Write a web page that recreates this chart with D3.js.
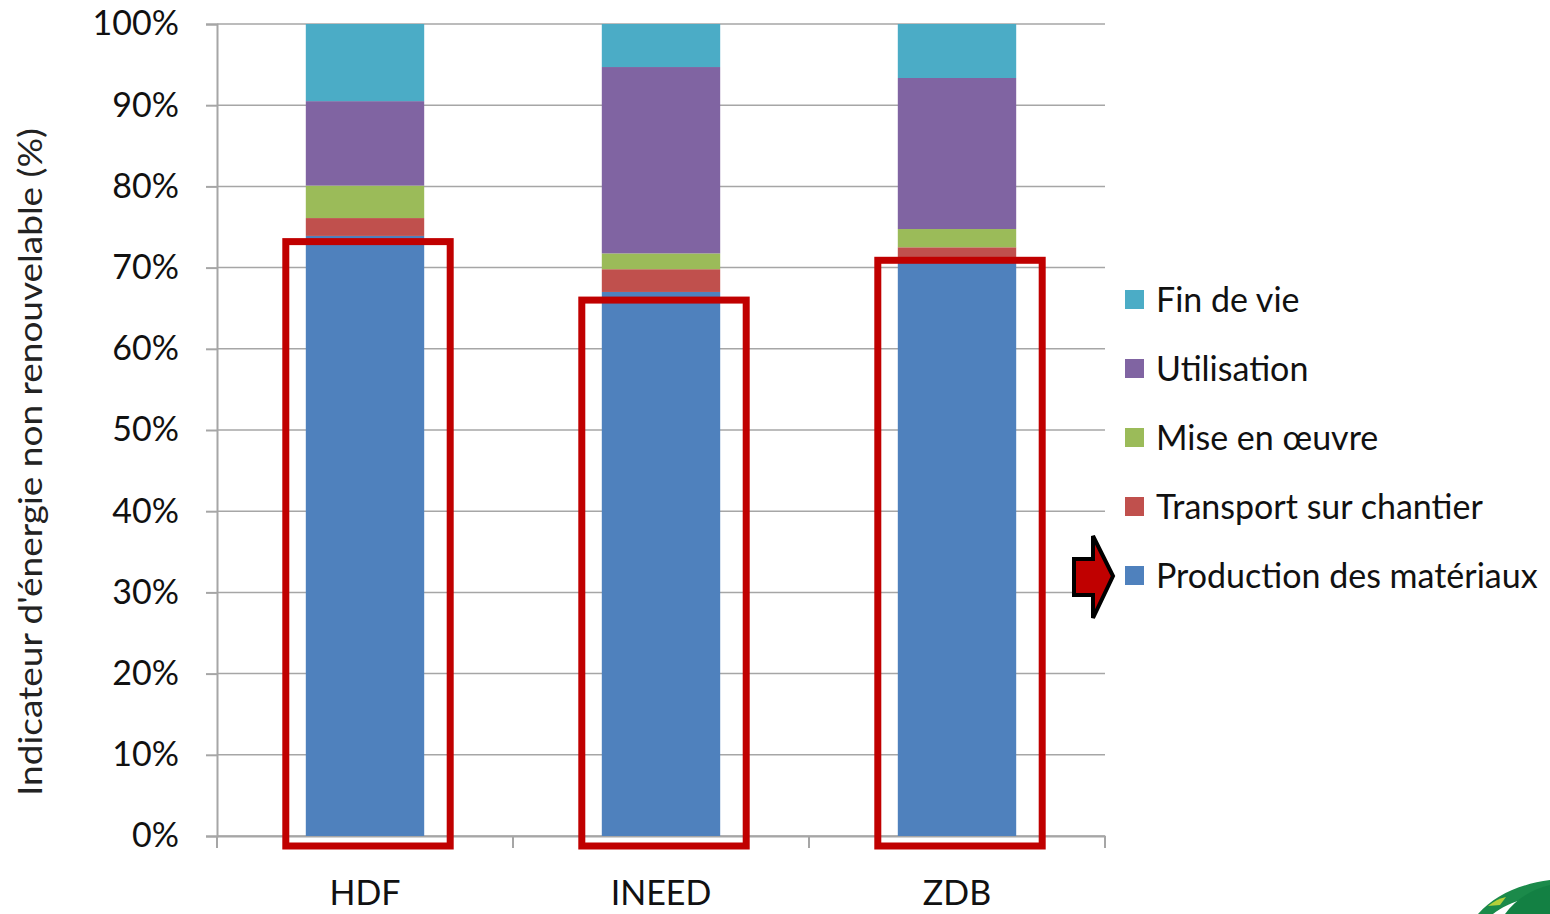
<!DOCTYPE html>
<html><head><meta charset="utf-8">
<script src="https://cdn.jsdelivr.net/npm/d3@7"></script>
<style>body{margin:0;background:#fff;}svg{display:block;font-family:Lato,"Open Sans",sans-serif;}</style>
</head><body>
<svg id="c" width="1550" height="914"></svg>
<script>
const categories = ["HDF", "INEED", "ZDB"];
const seriesNames = ["Production des matériaux", "Transport sur chantier", "Mise en œuvre", "Utilisation", "Fin de vie"];
const production = [73.9, 67.0, 71.3];
const transport = [2.2, 2.8, 1.2];
const miseEnOeuvre = [4.0, 1.95, 2.25];
const utilisation = [10.4, 22.95, 18.6];
const finDeVie = [9.5, 5.3, 6.65];
const colors = ["#4F81BD", "#C0504D", "#9BBB59", "#8064A2", "#4BACC6"];
const yTicks = [0, 10, 20, 30, 40, 50, 60, 70, 80, 90, 100];
const highlightTop = [73.2, 66.0, 70.9];

const svg = d3.select("#c");
const L = 217, R = 1105, T = 24, B = 836;
const x = d3.scaleBand().domain(categories).range([L, R]).paddingInner(0.6).paddingOuter(0.3);
const xc = d3.scalePoint().domain(categories).range([L, R]).padding(0.5);
const y = d3.scaleLinear().domain([0, 100]).range([B, T]);

const table = categories.map((c, i) => ({cat: c, 0: production[i], 1: transport[i], 2: miseEnOeuvre[i], 3: utilisation[i], 4: finDeVie[i]}));
const stacked = d3.stack().keys([0, 1, 2, 3, 4])(table);

// gridlines
svg.append("g").selectAll("line").data(yTicks).join("line")
  .attr("x1", L).attr("x2", R).attr("y1", d => y(d)).attr("y2", d => y(d))
  .attr("stroke", "#a6a6a6").attr("stroke-width", 1.5);

// y axis
const ya = svg.append("g").attr("transform", `translate(${L},0)`)
  .call(d3.axisLeft(y).tickValues(yTicks).tickFormat(d => d + "%").tickSize(11).tickPadding(27));
ya.select(".domain").attr("stroke", "#a6a6a6").attr("stroke-width", 2);
ya.selectAll(".tick line").attr("stroke", "#a6a6a6").attr("stroke-width", 2);
ya.selectAll("text").attr("font-size", 34).attr("fill", "#111").attr("font-family", "Lato, sans-serif");

// x axis
const xa = svg.append("g").attr("transform", `translate(0,${B})`)
  .call(d3.axisBottom(x).tickSize(0).tickPadding(45));
xa.select(".domain").attr("stroke", "#a6a6a6").attr("stroke-width", 2);
xa.selectAll("text").attr("font-size", 34).attr("fill", "#111").attr("font-family", "Lato, sans-serif");
const bounds = [L, (xc(categories[0]) + xc(categories[1])) / 2, (xc(categories[1]) + xc(categories[2])) / 2, R];
svg.append("g").selectAll("line").data(bounds).join("line")
  .attr("x1", d => d).attr("x2", d => d).attr("y1", B).attr("y2", B + 12)
  .attr("stroke", "#a6a6a6").attr("stroke-width", 2);

// bars
svg.append("g").selectAll("g").data(stacked).join("g")
  .attr("fill", (d, i) => colors[i])
  .selectAll("rect").data(d => d).join("rect")
  .attr("x", d => x(d.data.cat)).attr("width", x.bandwidth())
  .attr("y", d => y(d[1])).attr("height", d => y(d[0]) - y(d[1]));

// highlight rectangles
svg.append("g").selectAll("rect").data(categories).join("rect")
  .attr("x", d => x(d) - 20).attr("width", x.bandwidth() + 46)
  .attr("y", (d, i) => y(highlightTop[i])).attr("height", (d, i) => y(0) + 10 - y(highlightTop[i]))
  .attr("fill", "none").attr("stroke", "#C00000").attr("stroke-width", 7);

// y title
svg.append("text").attr("transform", `translate(42,462) rotate(-90)`)
  .attr("text-anchor", "middle").attr("font-size", 33).attr("fill", "#222")
  .attr("textLength", 668).attr("lengthAdjust", "spacingAndGlyphs")
  .text("Indicateur d'énergie non renouvelable (%)");

// legend
const legendOrder = [4, 3, 2, 1, 0];
const lg = svg.append("g");
legendOrder.forEach((k, j) => {
  const ly = 300 + j * 69;
  lg.append("rect").attr("x", 1125).attr("y", ly - 10).attr("width", 19).attr("height", 19).attr("fill", colors[k]);
  lg.append("text").attr("x", 1156).attr("y", ly + 12).attr("font-size", 34).attr("fill", "#111").text(seriesNames[k]);
});

// arrow pointing to Production
const ay = 300 + 4 * 69;
svg.append("path")
  .attr("d", `M1074,${ay - 17} L1093,${ay - 17} L1093,${ay - 40} L1113,${ay} L1093,${ay + 42} L1093,${ay + 19} L1074,${ay + 19} Z`)
  .attr("fill", "#C00000").attr("stroke", "#000").attr("stroke-width", 4).attr("stroke-linejoin", "miter");

// partial logo bottom right
svg.append("path").attr("d", "M1478,914 C1495,895 1520,884 1550,880 L1550,893 C1528,896 1505,904 1493,914 Z").attr("fill", "#1b8a4a");
svg.append("path").attr("d", "M1505,914 C1515,900 1530,890 1550,885 L1550,914 Z").attr("fill", "#138043");
svg.append("path").attr("d", "M1488,906 C1494,901 1500,898 1506,897 L1500,905 Z").attr("fill", "#b5cf3a");
</script>
</body></html>
